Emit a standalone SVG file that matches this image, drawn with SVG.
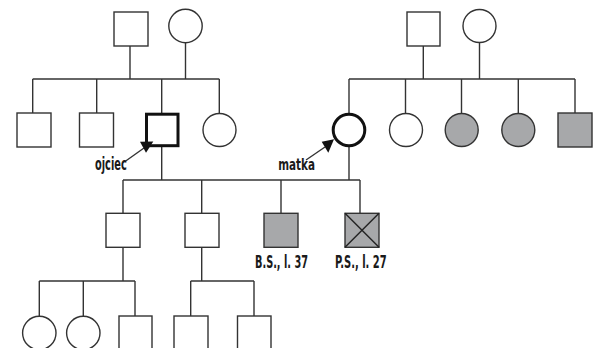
<svg xmlns="http://www.w3.org/2000/svg" width="601" height="348" viewBox="0 0 601 348">
<style>
.n{fill:#fff;stroke:#333;stroke-width:1.4}
.g{fill:#a7a8aa;stroke:#333;stroke-width:1.4}
.b{fill:#fff;stroke:#111;stroke-width:3}
.c line{stroke:#333;stroke-width:1.4}
.x{stroke:#222;stroke-width:1.4}
text{font-family:"Liberation Sans Narrow","DejaVu Sans Condensed","Liberation Sans",sans-serif;fill:#1a1a1a;font-weight:bold}
.ar{fill:#111}
</style>
<rect width="601" height="348" fill="#fff"/>
<g class="c" id="connectors">
<line x1="130" y1="46" x2="130" y2="79"/>
<line x1="185.5" y1="43" x2="185.5" y2="79"/>
<line x1="32.7" y1="79" x2="219.3" y2="79"/>
<line x1="32.7" y1="79" x2="32.7" y2="113"/>
<line x1="96.7" y1="79" x2="96.7" y2="113"/>
<line x1="161.7" y1="79" x2="161.7" y2="113"/>
<line x1="219.3" y1="79" x2="219.3" y2="113"/>
<line x1="423.3" y1="46" x2="423.3" y2="79"/>
<line x1="479.5" y1="43" x2="479.5" y2="79"/>
<line x1="349" y1="79" x2="575" y2="79"/>
<line x1="349" y1="79" x2="349" y2="113"/>
<line x1="405.5" y1="79" x2="405.5" y2="113"/>
<line x1="461.5" y1="79" x2="461.5" y2="113"/>
<line x1="518.3" y1="79" x2="518.3" y2="113"/>
<line x1="575" y1="79" x2="575" y2="113"/>
<line x1="161.7" y1="146" x2="161.7" y2="180"/>
<line x1="349" y1="146" x2="349" y2="180"/>
<line x1="123" y1="180" x2="360" y2="180"/>
<line x1="123" y1="180" x2="123" y2="213"/>
<line x1="201.7" y1="180" x2="201.7" y2="213"/>
<line x1="281" y1="180" x2="281" y2="213"/>
<line x1="360" y1="180" x2="360" y2="213"/>
<line x1="123" y1="247" x2="123" y2="281"/>
<line x1="39.3" y1="281" x2="135" y2="281"/>
<line x1="39.3" y1="281" x2="39.3" y2="316"/>
<line x1="83.3" y1="281" x2="83.3" y2="316"/>
<line x1="135" y1="281" x2="135" y2="316"/>
<line x1="201.7" y1="247" x2="201.7" y2="281"/>
<line x1="190.7" y1="281" x2="254" y2="281"/>
<line x1="190.7" y1="281" x2="190.7" y2="316"/>
<line x1="254" y1="281" x2="254" y2="316"/>
<line x1="125" y1="161.5" x2="144" y2="148"/>
<line x1="306" y1="160" x2="325" y2="147"/>
</g>
<g id="gf1"><rect class="n" x="114" y="12" width="34" height="34"/></g>
<g id="gm1"><circle class="n" cx="185.5" cy="26" r="16.7"/></g>
<g id="gf2"><rect class="n" x="407" y="12" width="33" height="34"/></g>
<g id="gm2"><circle class="n" cx="479.5" cy="26" r="16.5"/></g>
<g id="u1"><rect class="n" x="17" y="113" width="34" height="34"/></g>
<g id="u2"><rect class="n" x="79.5" y="113" width="34" height="34"/></g>
<g id="ojciec"><rect class="b" x="146.5" y="114.2" width="31.5" height="31.5"/>
<polygon class="ar" points="153.3,141.5 140,141.7 146,152.7"/>
<text x="95" y="169.5" font-size="17" textLength="31.7" lengthAdjust="spacingAndGlyphs">ojciec</text></g>
<g id="a1"><circle class="n" cx="219.5" cy="130" r="16.5"/></g>
<g id="matka"><circle class="b" cx="349" cy="130" r="15.8"/>
<polygon class="ar" points="334,139.3 321.7,141.7 328.3,152.7"/>
<text x="278.3" y="170" font-size="15" textLength="36.7" lengthAdjust="spacingAndGlyphs">matka</text></g>
<g id="a2"><circle class="n" cx="406" cy="130" r="16.5"/></g>
<g id="a3"><circle class="g" cx="461.7" cy="130" r="16.5"/></g>
<g id="a4"><circle class="g" cx="518.3" cy="130" r="16.5"/></g>
<g id="u3"><rect class="g" x="558" y="113" width="34" height="34"/></g>
<g id="s1"><rect class="n" x="106" y="213.3" width="34" height="34"/></g>
<g id="s2"><rect class="n" x="185" y="213.3" width="34" height="34"/></g>
<g id="bs"><rect class="g" x="264" y="213.3" width="34" height="34"/>
<text x="255" y="268.3" font-size="18" textLength="53" lengthAdjust="spacingAndGlyphs">B.S., l. 37</text></g>
<g id="ps"><rect class="g" x="345" y="213.3" width="34" height="34"/>
<line class="x" x1="345" y1="213.3" x2="379" y2="247.3"/><line class="x" x1="379" y1="213.3" x2="345" y2="247.3"/>
<text x="335" y="268.3" font-size="18" textLength="51.7" lengthAdjust="spacingAndGlyphs">P.S., l. 27</text></g>
<g id="w1"><circle class="n" cx="39.3" cy="333" r="16.7"/></g>
<g id="w2"><circle class="n" cx="83.3" cy="333" r="16.7"/></g>
<g id="w3"><rect class="n" x="119" y="316" width="33" height="40"/></g>
<g id="w4"><rect class="n" x="174" y="316" width="34" height="40"/></g>
<g id="w5"><rect class="n" x="237.5" y="316" width="33.5" height="40"/></g>
</svg>
